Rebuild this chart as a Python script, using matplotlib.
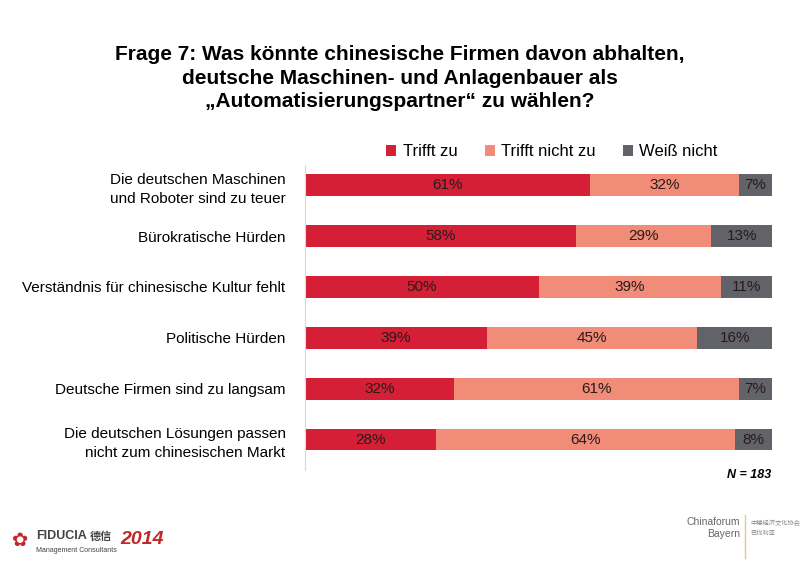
import matplotlib.pyplot as plt
import numpy as np

plt.rcParams['font.family'] = ['Liberation Sans', 'DejaVu Sans', 'Noto Sans CJK SC']

categories = ['Die deutschen Maschinen\nund Roboter sind zu teuer',
              'Bürokratische Hürden',
              'Verständnis für chinesische Kultur fehlt',
              'Politische Hürden',
              'Deutsche Firmen sind zu langsam',
              'Die deutschen Lösungen passen\nnicht zum chinesischen Markt']
trifft_zu = [61, 58, 50, 39, 32, 28]
trifft_nicht_zu = [32, 29, 39, 45, 61, 64]
weiss_nicht = [7, 13, 11, 16, 7, 8]
series_names = ['Trifft zu', 'Trifft nicht zu', 'Weiß nicht']
colors = ['#d41f36', '#f18c78', '#616368']

fig = plt.figure(figsize=(8, 5.61), dpi=100)
ax = fig.add_axes([305 / 800, 1 - 470 / 561, 467 / 800, 305 / 561])

y = np.arange(len(categories))
left = np.zeros(len(categories))
for vals, name, col in zip([trifft_zu, trifft_nicht_zu, weiss_nicht], series_names, colors):
    vals = np.array(vals)
    ax.barh(y, vals, left=left, height=0.43, color=col, label=name)
    for yi, l, v in zip(y, left, vals):
        ax.text(l + v / 2, yi, f'{v}%', ha='center', va='center',
                fontsize=11, color='#2a1a1a')
    left += vals

ax.set_xlim(0, 100)
ax.set_ylim(len(categories) - 0.4, -0.4)
ax.set_yticks(y)
ax.set_yticklabels(categories, fontsize=11, linespacing=1.45)
ax.tick_params(axis='y', length=0, pad=14)
ax.set_xticks([])
for s in ['top', 'right', 'bottom']:
    ax.spines[s].set_visible(False)
ax.spines['left'].set_color('#d9d9d9')

leg = fig.legend(loc='center', bbox_to_anchor=(552 / 800, 1 - 152 / 561), ncol=3,
                 frameon=False, fontsize=12, handlelength=0.6, handleheight=0.6,
                 handletextpad=0.4, columnspacing=1.6)

fig.text(0.5, 1 - 78 / 561,
         'Frage 7: Was könnte chinesische Firmen davon abhalten,\n'
         'deutsche Maschinen- und Anlagenbauer als\n'
         '„Automatisierungspartner“ zu wählen?',
         ha='center', va='center', fontsize=15, fontweight='bold', linespacing=1.3)

fig.text(771 / 800, 1 - 475 / 561, 'N = 183', ha='right', va='center',
         fontsize=9, fontweight='bold', fontstyle='italic')

# logos (text approximations)
fig.text(36 / 800, 1 - 536 / 561, 'FIDUCIA', fontsize=9, fontweight='bold',
         color='#444444', va='center')
fig.text(90 / 800, 1 - 536 / 561, '德信', fontsize=8, fontweight='bold',
         color='#444444', va='center', family=['Noto Sans CJK SC'])
fig.text(36 / 800, 1 - 551 / 561, 'Management Consultants', fontsize=5,
         color='#444444', va='center')
fig.text(120 / 800, 1 - 540 / 561, '2014', fontsize=14, fontweight='bold',
         fontstyle='italic', color='#c0282d', va='center')
fig.text(20 / 800, 1 - 540 / 561, '✿', fontsize=14, color='#c0282d',
         va='center', ha='center', family=['DejaVu Sans'])
fig.text(740 / 800, 1 - 528 / 561, 'Chinaforum\nBayern', fontsize=7.5,
         color='#666666', ha='right', va='center', multialignment='right')
fig.text(750 / 800, 1 - 528 / 561, '中德经济文化协会\n巴伐利亚', fontsize=4.5,
         color='#888888', ha='left', va='center', family=['Noto Sans CJK SC'])
fig.add_artist(plt.Line2D([745 / 800, 745 / 800], [1 - 558 / 561, 1 - 515 / 561],
                          color='#e8c88a', lw=1))

fig.savefig('out.png', dpi=100)
